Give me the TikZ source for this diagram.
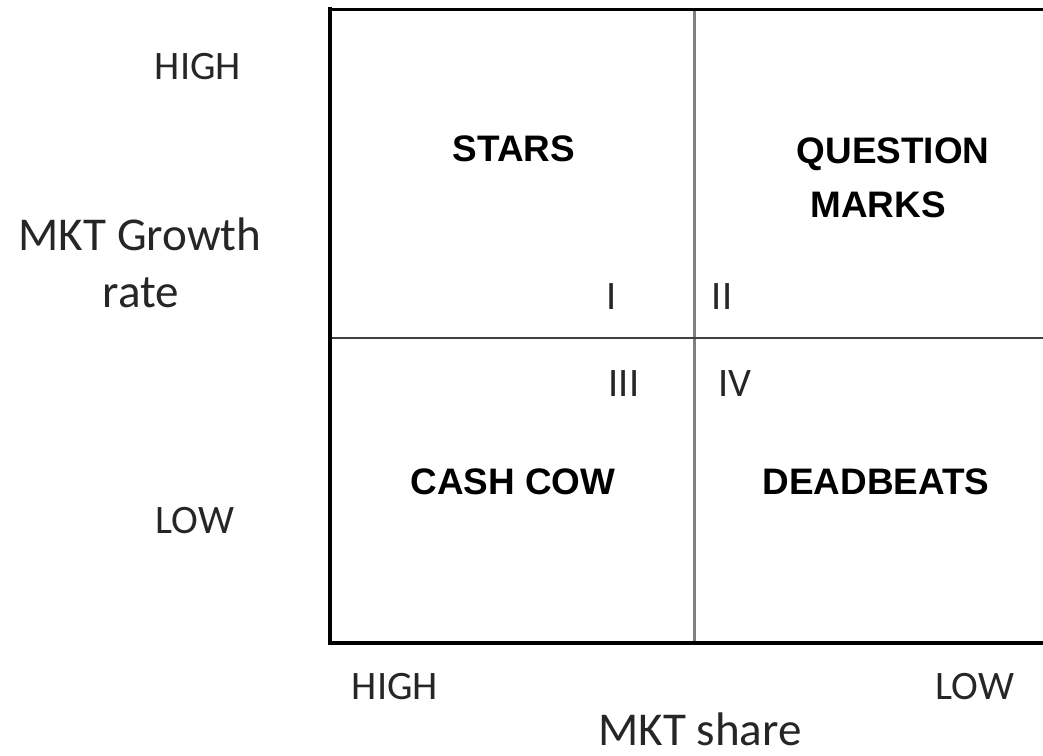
\documentclass[tikz,border=0pt]{standalone}
\usepackage{fontspec}
\setmainfont{Carlito}
\newfontfamily\quadfont{Liberation Sans}
\begin{document}
\begin{tikzpicture}[x=0.02cm, y=-0.02cm,
    axislab/.style={text=black!85, inner sep=0pt, anchor=base, font=\fontsize{23}{27}\selectfont},
    titlelab/.style={text=black!85, inner sep=0pt, anchor=base, font=\fontsize{26.8}{32}\selectfont},
    quadlab/.style={inner sep=0pt, anchor=base, font=\quadfont\bfseries\fontsize{21}{30}\selectfont},
    numlab/.style={text=black!85, inner sep=0pt, anchor=base, font=\fontsize{23}{27}\selectfont}]
    \useasboundingbox (0,0) rectangle (1043,755);

    % Frame corners
    \coordinate (tl) at (330,9);
    \coordinate (tr) at (1043,9);
    \coordinate (bl) at (330,643);
    \coordinate (br) at (1043,643);
    \coordinate (mt) at (694,9);
    \coordinate (mb) at (694,643);
    \coordinate (ml) at (330,338);
    \coordinate (mr) at (1043,338);

    % Grid
    \draw[line width=1.7pt, black!50] (mt) -- (mb);
    \draw[line width=1.1pt, black!75] (ml) -- (mr);
    \draw[line width=1.7pt] (tl) -- (tr);
    \draw[line width=2.8pt, line cap=rect] (tl) -- (bl) -- (br);

    % Axis labels
    \node[axislab] (yhigh) at (198,79) {HIGH};
    \node[axislab] (ylow) at (195,533) {LOW};
    \node[titlelab] (ytitle) at (140,250) {MKT Growth};
    \node[titlelab] (ytitle2) at (141,307) {rate};
    \node[axislab] (xhigh) at (395,699) {HIGH};
    \node[axislab] (xlow) at (975,699) {LOW};
    \node[titlelab] (xtitle) at (700,745) {MKT share};

    % Quadrants
    \node[quadlab] (stars) at (514,161) {STARS};
    \node[quadlab] (quest) at (893,163) {QUESTION};
    \node[quadlab] (marks) at (878,217) {MARKS};
    \node[quadlab] (cow) at (513,494) {CASH COW};
    \node[quadlab] (dead) at (876,494) {DEADBEATS};

    % Numerals
    \node[numlab] (q1) at (612,309) {I};
    \node[numlab] (q2) at (722,309) {II};
    \node[numlab] (q3) at (624,396) {III};
    \node[numlab] (q4) at (735,396) {IV};

\end{tikzpicture}
\end{document}
